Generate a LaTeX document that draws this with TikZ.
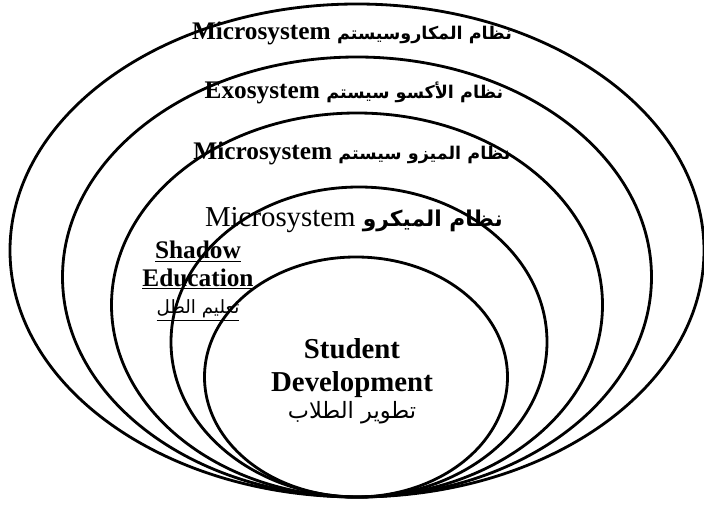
\documentclass[tikz,border=0pt]{standalone}
\usepackage{fontspec}
\setmainfont{Liberation Serif}
\newfontfamily\arabicfont[Script=Arabic]{DejaVu Sans}
\TeXXeTstate=1
\usepackage{tikz}

\begin{document}
\begin{tikzpicture}[x=0.025cm,y=0.025cm,
	ring/.style={line width=2pt},
	lbl/.style={inner sep=1pt,font=\fontsize{18}{20}\selectfont\bfseries},
	core/.style={align=center,inner sep=1pt,font=\fontsize{20.5}{23.5}\selectfont\bfseries}]

	\useasboundingbox (0,0) rectangle (704,507);

	\draw [ring] (357,256.5) ellipse [x radius=347, y radius=246.5];
	\draw [ring] (357,230) ellipse [x radius=294.5, y radius=220];
	\draw [ring] (357,202) ellipse [x radius=245.5, y radius=192];
	\draw [ring] (359,165) ellipse [x radius=188, y radius=155];
	\draw [ring] (356,130) ellipse [x radius=151.5, y radius=120];

	\node (macro) [lbl] at (352,474) {Microsystem {\arabicfont\fontsize{12.5}{14}\selectfont\beginR نظام المكاروسيستم\endR}};
	\node (exo) [lbl] at (354,414) {Exosystem {\arabicfont\fontsize{12.5}{14}\selectfont\beginR نظام الأكسو سيستم\endR}};
	\node (meso) [lbl] at (352,354) {Microsystem {\arabicfont\fontsize{12.5}{14}\selectfont\beginR نظام الميزو سيستم\endR}};
	\node (micro) [inner sep=1pt,font=\fontsize{20.5}{22}\selectfont] at (354,287) {Microsystem {\arabicfont\bfseries\fontsize{15.5}{17}\selectfont\beginR نظام الميكرو\endR}};
	\node (shadow) [core,font=\fontsize{18}{19.5}\selectfont\bfseries] at (198,226)
		{\underline{Shadow}\\\underline{Education}\\\underline{\arabicfont\mdseries\fontsize{13}{15}\selectfont\beginR تعليم الظل\endR}};
	\node (student) [core] at (352,126)
		{Student\\Development\\[-4pt]{\arabicfont\mdseries\fontsize{16}{18}\selectfont\beginR تطوير الطلاب\endR}};

\end{tikzpicture}
\end{document}
